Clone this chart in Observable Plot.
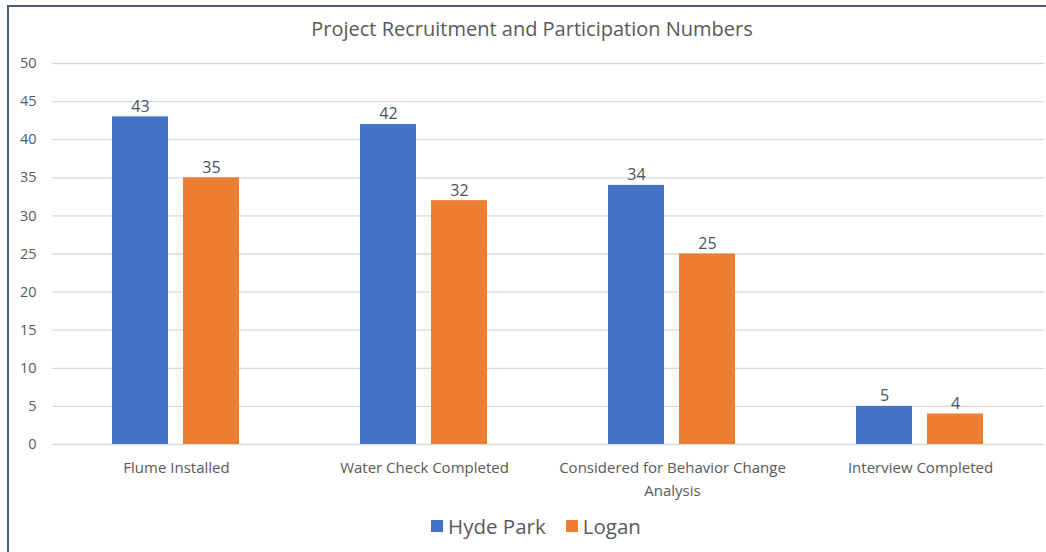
<!DOCTYPE html>
<html>
<head>
<meta charset="utf-8">
<script src="https://cdn.jsdelivr.net/npm/d3@7"></script>
<script src="https://cdn.jsdelivr.net/npm/@observablehq/plot@0.6"></script>
<style>
  html, body { margin: 0; padding: 0; background: #fff; overflow: hidden; }
  #frame { position: absolute; left: 7px; top: 5px; width: 1045px; height: 560px;
           border-top: 2px solid #4a5f7e; border-left: 2px solid #4a5f7e; box-sizing: border-box; }
  #title { position: absolute; left: 0; top: 15px; width: 1064px; text-align: center;
           font-family: "Open Sans", sans-serif; font-size: 20px; color: #595959; }
  #chart { position: absolute; left: 0; top: 45px; }
  #legend { position: absolute; left: 0; top: 512px; width: 1072px; display: flex; justify-content: center;
            font-family: "Open Sans", sans-serif; font-size: 20.5px; color: #595959; gap: 20px; align-items: center; }
  .sw { display: inline-block; width: 12px; height: 12px; margin-right: 5px; }
  #legend span.item { display: inline-flex; align-items: center; }
</style>
</head>
<body>
<div id="frame"></div>
<div id="title">Project Recruitment and Participation Numbers</div>
<div id="chart"></div>
<div id="legend"></div>
<script>
const categories = ["Flume Installed", "Water Check Completed", "Considered for Behavior Change Analysis", "Interview Completed"];
const categoryLabels = ["Flume Installed", "Water Check Completed", "Considered for Behavior Change\nAnalysis", "Interview Completed"];
const seriesNames = ["Hyde Park", "Logan"];
const hydePark = [43, 42, 34, 5];
const logan = [35, 32, 25, 4];
const colors = ["#4472C4", "#ED7D31"];
const yTicks = [0, 5, 10, 15, 20, 25, 30, 35, 40, 45, 50];

const data = [];
categories.forEach((c, i) => {
  data.push({category: c, series: seriesNames[0], value: hydePark[i]});
  data.push({category: c, series: seriesNames[1], value: logan[i]});
});
const labelOf = new Map(categories.map((c, i) => [c, categoryLabels[i]]));

const chart = Plot.plot({
  width: 1046,
  height: 460,
  marginLeft: 51,
  marginRight: 2,
  marginTop: 18,
  marginBottom: 61,
  style: {fontFamily: "Open Sans, sans-serif", color: "#595959", background: "transparent"},
  fx: {domain: categories, padding: 0, label: null, axis: null},
  x: {domain: seriesNames, paddingInner: 0.211, paddingOuter: 0.845, axis: null},
  y: {domain: [0, 50], ticks: yTicks, label: null},
  color: {domain: seriesNames, range: colors},
  marks: [
    Plot.ruleY(yTicks, {stroke: "#d9d9d9", strokeWidth: 1.3}),
    Plot.axisY({ticks: yTicks, tickSize: 0, tickPadding: 16, fontSize: 14.5, label: null, fill: "#595959"}),
    Plot.barY(data, {fx: "category", x: "series", y: "value", fill: "series"}),
    Plot.text(data, {fx: "category", x: "series", y: "value", text: d => String(d.value),
      dy: -5, lineAnchor: "bottom", fontSize: 16, fill: "#44546a"}),
    Plot.axisFx({anchor: "bottom", tickSize: 0, tickPadding: 13, fontSize: 15, label: null,
      tickFormat: c => labelOf.get(c), lineHeight: 1.5, fill: "#595959"})
  ]
});
document.getElementById("chart").appendChild(chart);

const legend = document.getElementById("legend");
seriesNames.forEach((s, i) => {
  const item = document.createElement("span");
  item.className = "item";
  const sw = document.createElement("span");
  sw.className = "sw";
  sw.style.background = colors[i];
  item.appendChild(sw);
  item.appendChild(document.createTextNode(s));
  legend.appendChild(item);
});
</script>
</body>
</html>
